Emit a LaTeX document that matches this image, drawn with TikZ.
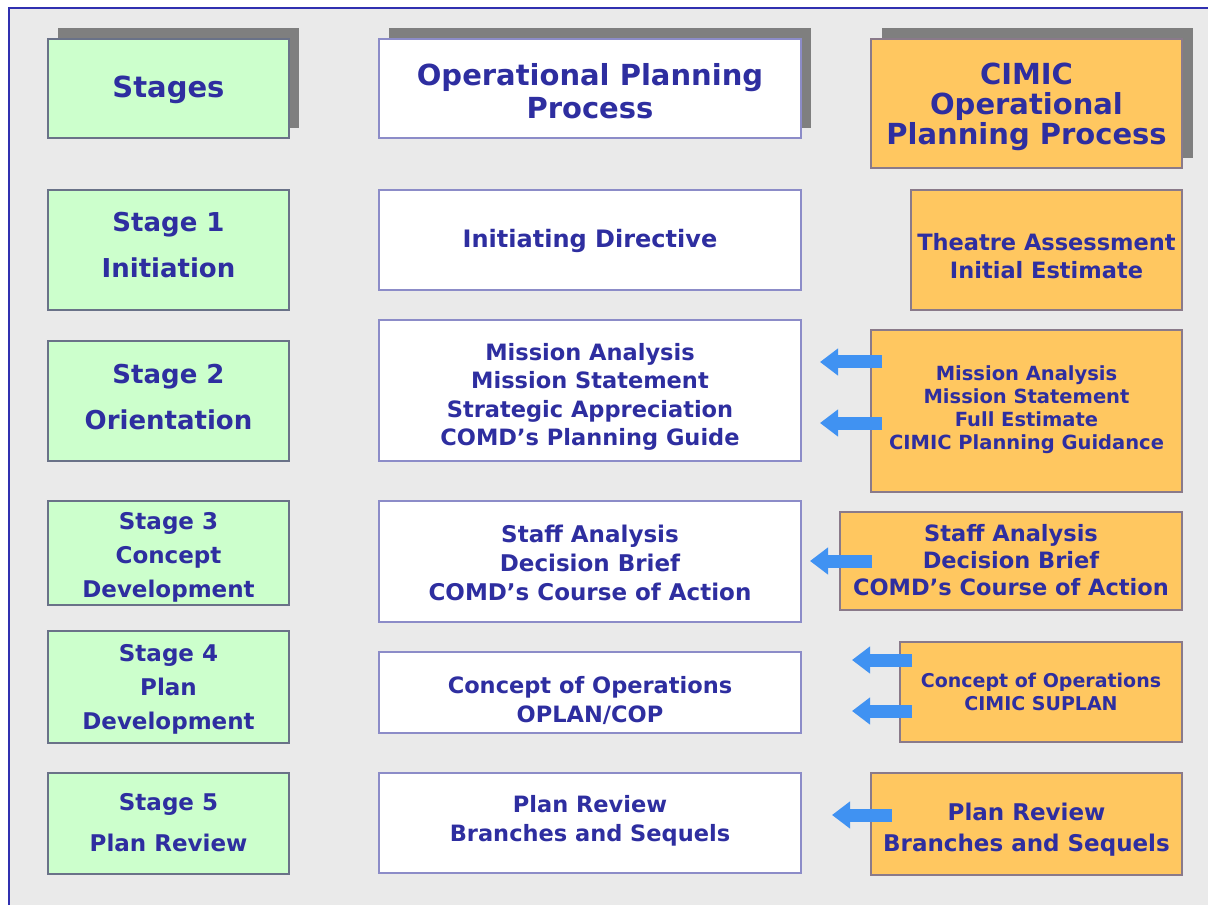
\documentclass[tikz,border=0pt]{standalone}
\usepackage{fontspec}
\setmainfont{DejaVu Sans}
\usetikzlibrary{arrows.meta}
\definecolor{bg}{HTML}{EAEAEA}
\definecolor{frameblue}{HTML}{3030B0}
\definecolor{txt}{HTML}{2E2EA0}
\definecolor{gfill}{HTML}{CCFFCC}
\definecolor{ofill}{HTML}{FFC760}
\definecolor{bordg}{HTML}{6A7288}
\definecolor{bordw}{HTML}{8C8CC8}
\definecolor{bordo}{HTML}{8A7A8A}
\definecolor{shadowgray}{HTML}{7F7F7F}
\definecolor{arrowblue}{HTML}{4092F2}
\tikzset{
  box/.style={draw, line width=1.5pt, inner sep=0pt},
  gbox/.style={box, fill=gfill, draw=bordg},
  wbox/.style={box, fill=white, draw=bordw},
  obox/.style={box, fill=ofill, draw=bordo},
  btext/.style={inner sep=0pt, align=center, text=txt},
  barrow/.style={draw=arrowblue, line width=13pt, line cap=butt,
    -{Triangle[width=26pt,length=18pt]}},
  fh/.style={btext, font=\bfseries\fontsize{29}{33}\selectfont},
  fs/.style={btext, font=\bfseries\fontsize{26}{46}\selectfont},
  fss/.style={btext, font=\bfseries\fontsize{23}{34}\selectfont},
}
\begin{document}
\begin{tikzpicture}[x=1pt,y=-1pt]
\useasboundingbox (0,0) rectangle (1208,909);
\fill[bg] (9,9) rectangle (1208,905);
\draw[frameblue, line width=2pt] (8.5,905) -- (8.5,8.5) -- (1208,8.5);

% header shadows
\fill[shadowgray] (58,28) rectangle (299,128);
\fill[shadowgray] (389,28) rectangle (811,128);
\fill[shadowgray] (882,28) rectangle (1193,158);

% headers
\node[gbox, minimum width=241pt, minimum height=99pt] (h1) at (168.5,88.5) {};
\node[fh] (h1t) at ([yshift=-1pt]h1.center) {Stages};
\node[wbox, minimum width=422pt, minimum height=99pt] (h2) at (590,88.5) {};
\node[fh] (h2t) at ([yshift=-3pt]h2.center) {Operational Planning\\Process};
\node[obox, minimum width=311pt, minimum height=129pt] (h3) at (1026.5,103.5) {};
\node[fh, font=\bfseries\fontsize{29}{30}\selectfont] (h3t) at ([yshift=-3.5pt]h3.center) {CIMIC\\Operational\\Planning Process};

% stage column
\node[gbox, minimum width=241pt, minimum height=120pt] (s1) at (168.5,250) {};
\node[fs] (s1t) at ([yshift=5pt]s1.center) {Stage 1\\Initiation};
\node[gbox, minimum width=241pt, minimum height=120pt] (s2) at (168.5,401) {};
\node[fs] (s2t) at ([yshift=4pt]s2.center) {Stage 2\\Orientation};
\node[gbox, minimum width=241pt, minimum height=104pt] (s3) at (168.5,553) {};
\node[fss] (s3t) at ([yshift=-4.5pt]s3.center) {Stage 3\\Concept\\Development};
\node[gbox, minimum width=241pt, minimum height=112pt] (s4) at (168.5,687) {};
\node[fss] (s4t) at ([yshift=-2pt]s4.center) {Stage 4\\Plan\\Development};
\node[gbox, minimum width=241pt, minimum height=101pt] (s5) at (168.5,823.5) {};
\node[fss, font=\bfseries\fontsize{23}{41}\selectfont] (s5t) at ([yshift=1pt]s5.center) {Stage 5\\Plan Review};

% OPP column
\node[wbox, minimum width=422pt, minimum height=100pt] (p1) at (590,240) {};
\node[btext, font=\bfseries\fontsize{24}{28.5}\selectfont] (p1t) at ([yshift=-1pt]p1.center) {Initiating Directive};
\node[wbox, minimum width=422pt, minimum height=141pt] (p2) at (590,390.5) {};
\node[btext, font=\bfseries\fontsize{22.5}{28.5}\selectfont] (p2t) at ([yshift=-6.5pt]p2.center) {Mission Analysis\\Mission Statement\\Strategic Appreciation\\COMD’s Planning Guide};
\node[wbox, minimum width=422pt, minimum height=121pt] (p3) at (590,561.5) {};
\node[btext, font=\bfseries\fontsize{23}{29}\selectfont] (p3t) at ([yshift=-1pt]p3.center) {Staff Analysis\\Decision Brief\\COMD’s Course of Action};
\node[wbox, minimum width=422pt, minimum height=81pt] (p4) at (590,692.5) {};
\node[btext, font=\bfseries\fontsize{22.5}{28.5}\selectfont] (p4t) at ([yshift=-8pt]p4.center) {Concept of Operations\\OPLAN/COP};
\node[wbox, minimum width=422pt, minimum height=100pt] (p5) at (590,823) {};
\node[btext, font=\bfseries\fontsize{22.5}{29}\selectfont] (p5t) at ([yshift=2pt]p5.center) {Plan Review\\Branches and Sequels};

% CIMIC column
\node[obox, minimum width=271pt, minimum height=120pt] (c1) at (1046.5,250) {};
\node[btext, font=\bfseries\fontsize{22.5}{28}\selectfont] (c1t) at ([yshift=-6pt]c1.center) {Theatre Assessment\\Initial Estimate};
\node[obox, minimum width=311pt, minimum height=162pt] (c2) at (1026.5,411) {};
\node[btext, font=\bfseries\fontsize{19.5}{23}\selectfont] (c2t) at ([yshift=1.5pt]c2.center) {Mission Analysis\\Mission Statement\\Full Estimate\\CIMIC Planning Guidance};
\node[obox, minimum width=342pt, minimum height=98pt] (c3) at (1011,561) {};
\node[btext, font=\bfseries\fontsize{22.5}{27}\selectfont] (c3t) at ([yshift=1pt]c3.center) {Staff Analysis\\Decision Brief\\COMD’s Course of Action};
\node[obox, minimum width=282pt, minimum height=100pt] (c4) at (1041,692) {};
\node[btext, font=\bfseries\fontsize{19}{23}\selectfont] (c4t) at (c4.center) {Concept of Operations\\CIMIC SUPLAN};
\node[obox, minimum width=311pt, minimum height=102pt] (c5) at (1026.5,824) {};
\node[btext, font=\bfseries\fontsize{23}{31}\selectfont] (c5t) at ([yshift=-6pt]c5.center) {Plan Review\\Branches and Sequels};

% arrows
\coordinate (a1s) at (882,362); \coordinate (a1e) at (820,362);
\coordinate (a2s) at (882,423); \coordinate (a2e) at (820,423);
\coordinate (a3s) at (872,561); \coordinate (a3e) at (810,561);
\coordinate (a4s) at (912,660); \coordinate (a4e) at (852,660);
\coordinate (a5s) at (912,711); \coordinate (a5e) at (852,711);
\coordinate (a6s) at (892,815); \coordinate (a6e) at (832,815);
\draw[barrow] (a1s) -- (a1e);
\draw[barrow] (a2s) -- (a2e);
\draw[barrow] (a3s) -- (a3e);
\draw[barrow] (a4s) -- (a4e);
\draw[barrow] (a5s) -- (a5e);
\draw[barrow] (a6s) -- (a6e);
\end{tikzpicture}
\end{document}
